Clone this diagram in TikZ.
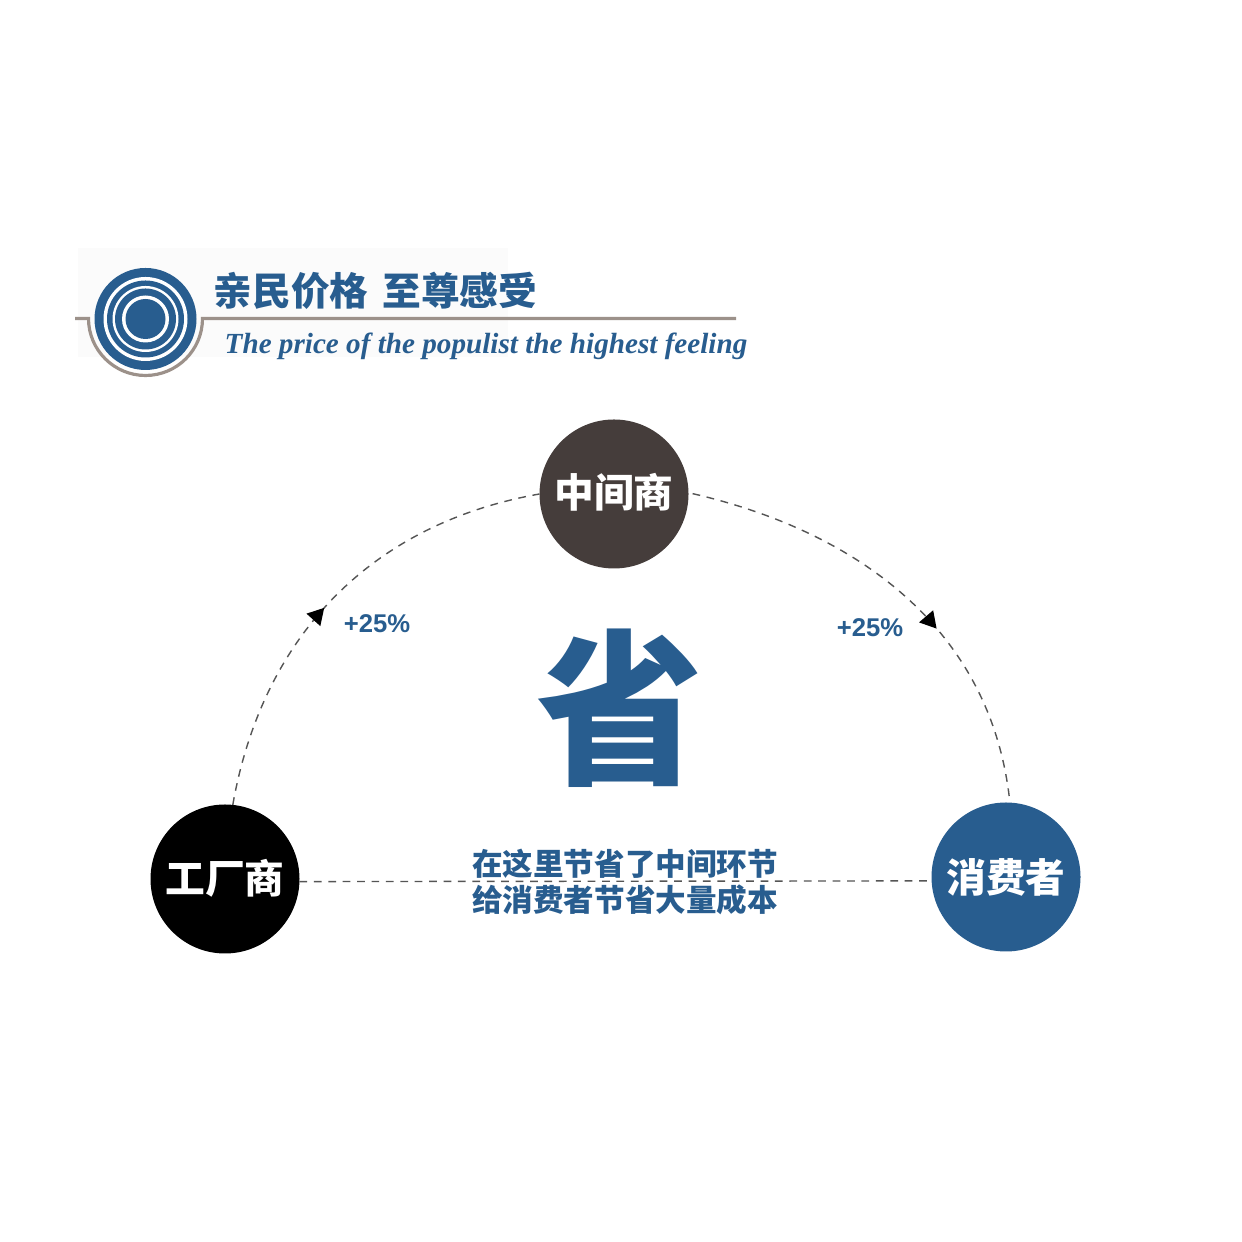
\documentclass[tikz,border=0pt]{standalone}
\usepackage{fontspec}
\usetikzlibrary{arrows.meta,positioning,decorations.markings}
\setmainfont{Liberation Serif}
\setsansfont{Liberation Sans}
\newfontfamily\cjk{Noto Sans CJK SC}
\newfontfamily\cjkheavy{Noto Sans CJK SC Black}
\definecolor{blueink}{HTML}{285D8F}
\definecolor{darkbrown}{HTML}{453D3B}
\definecolor{rulegray}{HTML}{9C918A}
\definecolor{dashgray}{HTML}{555555}
\tikzset{
  party/.style={circle,minimum size=1.49cm,inner sep=0pt,outer sep=0pt,text=white,font=\cjk\bfseries\fontsize{11.3}{12}\selectfont},
  route/.style={draw=dashgray,line width=0.4pt,dash pattern=on 2.2pt off 1.9pt},
  midtip/.style={postaction={decorate,decoration={markings,mark=at position #1 with {\arrow{Triangle[length=4.6pt,width=5.2pt,black]}}}}},
  gain/.style={font=\sffamily\bfseries\fontsize{7.3}{8}\selectfont,text=blueink},
  note/.style={font=\cjk\bfseries\fontsize{8.7}{10.2}\selectfont,text=blueink,align=center}
}
\begin{document}
\begin{tikzpicture}
  \useasboundingbox[fill=white] (0,0) rectangle (12.42,12.42);

  % Header badge
  \fill[black!1.5] (0.78,8.85) rectangle (5.08,9.94);
  \coordinate (ruleleft) at (0.75,9.235);
  \coordinate (ruleright) at (7.36,9.235);
  \draw[rulegray,line width=0.9pt] (ruleleft) -- (0.885,9.235) arc[start angle=180,end angle=360,radius=0.57] -- (ruleright);
  \node[circle,fill=blueink,minimum size=1.02cm,inner sep=0pt] (badge) at (1.455,9.23) {};
  \foreach \r/\c in {0.42/white,0.385/blueink,0.33/white,0.305/blueink,0.235/white,0.20/blueink}
    \fill[\c] (badge.center) circle (\r);
  \node[anchor=west,inner sep=0pt,text=blueink,font=\cjk\bfseries\fontsize{11}{12}\selectfont] (slogan) at (2.13,9.51) {亲民价格\hspace{0.37em}至尊感受};
  \node[anchor=west,inner sep=0pt,text=blueink,font=\bfseries\itshape\fontsize{8.3}{12}\selectfont] (sloganen) at (2.24,8.96) {The price of the populist the highest feeling};

  % Parties
  \node[party,fill=darkbrown] (middleman) at (6.14,7.48) {\raisebox{2pt}{中间商}};
  \node[party,fill=black] (factory) at (2.25,3.63) {\raisebox{1.6pt}{工厂商}};
  \node[party,fill=blueink] (consumer) at (10.06,3.65) {消费者};

  \draw[route,midtip=0.47] (factory.84) to[out=80,in=190] (middleman.180);
  \draw[route,midtip=0.6,shorten <=1.2pt] (middleman.1) to[out=-13,in=96] (consumer.87);
  \draw[route] (factory.-2) -- (consumer.183);

  \node[gain] (gainleft) at (3.77,6.18) {+25\%};
  \node[gain] (gainright) at (8.70,6.14) {+25\%};

  % Centre
  \node[text=blueink,inner sep=0pt,font=\cjkheavy\fontsize{47.5}{50}\selectfont] (save) at (6.2,5.34) {省};
  \node[note,inner sep=0pt] (note) at (6.25,3.6) {在这里节省了中间环节\\给消费者节省大量成本};
\end{tikzpicture}
\end{document}
